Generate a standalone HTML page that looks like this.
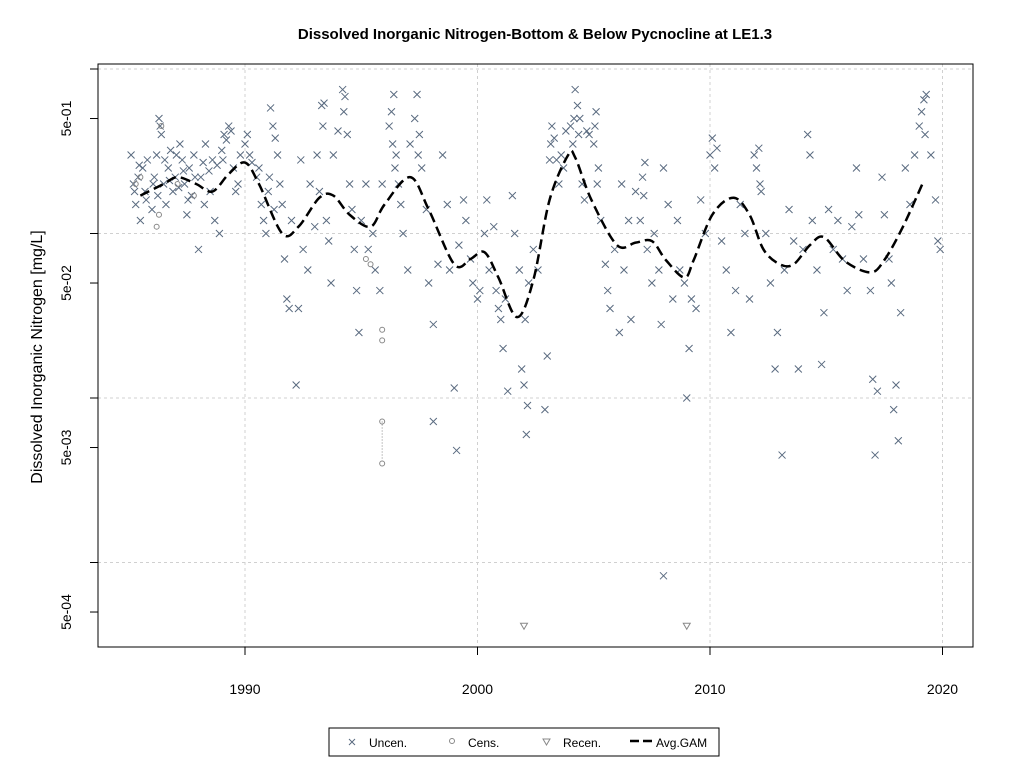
<!DOCTYPE html>
<html><head><meta charset="utf-8"><style>
body{margin:0;background:#fff;font-family:"Liberation Sans",Arial,sans-serif}
svg{display:block}
text{font-family:"Liberation Sans",Arial,sans-serif}
</style></head><body>
<svg id="chart" width="1024" height="768" viewBox="0 0 1024 768">
<text x="535" y="39" text-anchor="middle" font-size="15" font-weight="bold">Dissolved Inorganic Nitrogen-Bottom &amp; Below Pycnocline at LE1.3</text>
<text transform="translate(42,357) rotate(-90)" text-anchor="middle" font-size="16">Dissolved Inorganic Nitrogen [mg/L]</text>
<g id="grid"></g><g id="axes"></g><g id="marks"></g>
<rect x="98" y="64" width="875" height="583" fill="none" stroke="#000" stroke-width="1"/>
<g>
<rect x="329" y="728" width="390" height="28" fill="#fff" stroke="#000"/>
<g><path d="M349,739 l6,6 M355,739 l-6,6" stroke="#5a6b80" stroke-width="1"/><text x="369" y="747" font-size="12">Uncen.</text></g>
<g><circle cx="452" cy="741" r="2.5" fill="none" stroke="#888"/><text x="468" y="747" font-size="12">Cens.</text></g>
<g><path d="M543,739 h7 l-3.5,6 z" fill="none" stroke="#888"/><text x="563" y="747" font-size="12">Recen.</text></g>
<g><path d="M630,741 h22" stroke="#000" stroke-width="2.5" stroke-dasharray="9,4"/><text x="656" y="747" font-size="12">Avg.GAM</text></g>
</g>
</svg>
<script>
const xTicks=[1990,2000,2010,2020];
const yTickVals=[0.5,0.05,0.005,0.0005];
const yTickLabels=["5e-01","5e-02","5e-03","5e-04"];
const yGridVals=[1,0.1,0.01,0.001];
const gamYears=[1985.5,1986.5,1987.1,1987.9,1988.6,1989.3,1990,1990.6,1991.6,1992.3,1993.2,1993.8,1994.5,1995.4,1996,1997.1,1997.9,1999,1999.7,2000.3,2000.9,2001.7,2002.4,2003.1,2003.9,2004.2,2004.9,2006,2006.8,2007.5,2008.1,2008.9,2009.3,2010.1,2011,2011.7,2012.3,2013,2013.6,2014.3,2014.9,2015.8,2016.9,2017.5,2018.3,2019.2];
const gamValues=[0.17,0.2,0.22,0.2,0.18,0.23,0.27,0.2,0.1,0.11,0.165,0.17,0.13,0.11,0.15,0.22,0.14,0.065,0.07,0.077,0.054,0.031,0.052,0.16,0.3,0.29,0.16,0.085,0.088,0.09,0.069,0.054,0.069,0.13,0.165,0.13,0.08,0.065,0.065,0.085,0.095,0.068,0.058,0.069,0.11,0.21];
const uncenYears=[1985.1,1985.2,1985.3,1985.4,1985.5,1985.6,1985.7,1985.8,1986.0,1986.1,1986.2,1986.3,1986.35,1986.4,1986.5,1986.6,1986.7,1986.8,1986.9,1987.0,1987.2,1987.3,1987.4,1987.5,1987.6,1987.7,1987.8,1988.0,1988.1,1988.2,1988.3,1988.5,1988.6,1988.7,1988.9,1989.0,1989.1,1989.2,1989.4,1989.5,1989.6,1989.8,1990.0,1990.1,1990.3,1990.5,1990.7,1990.8,1990.9,1991.0,1991.1,1991.2,1991.3,1991.4,1991.5,1991.6,1991.7,1991.8,1991.9,1992.0,1992.2,1992.3,1992.4,1992.5,1992.7,1992.8,1993.0,1993.1,1993.2,1993.3,1993.4,1993.5,1993.6,1993.7,1993.8,1994.0,1994.2,1994.3,1994.4,1994.5,1994.6,1994.7,1994.8,1994.9,1995.0,1995.2,1995.3,1995.5,1995.6,1995.8,1995.9,1996.2,1996.3,1996.4,1996.5,1996.6,1996.7,1996.8,1997.0,1997.1,1997.3,1997.4,1997.5,1997.6,1997.8,1997.9,1998.1,1998.1,1998.3,1998.5,1998.7,1998.8,1999.0,1999.1,1999.2,1999.4,1999.5,1999.7,1999.8,2000.0,2000.1,2000.3,2000.4,2000.5,2000.7,2000.8,2000.9,2001.0,2001.1,2001.2,2001.3,2001.5,2001.6,2001.8,2001.9,2002.0,2002.1,2002.15,2002.2,2002.4,2002.6,2002.9,2003.0,2003.1,2003.2,2003.3,2003.5,2003.6,2003.8,2004.0,2004.1,2004.2,2004.3,2004.4,2004.5,2004.6,2004.8,2005.0,2005.1,2005.2,2005.3,2005.5,2005.6,2005.7,2005.9,2006.1,2006.2,2006.3,2006.5,2006.6,2006.8,2007.0,2007.1,2007.2,2007.3,2007.5,2007.6,2007.8,2007.9,2008.0,2008.0,2008.2,2008.4,2008.6,2008.7,2008.9,2009.0,2009.1,2009.2,2009.4,2009.6,2009.8,2010.0,2010.1,2010.3,2010.5,2010.7,2010.9,2011.1,2011.3,2011.5,2011.7,2011.9,2012.0,2012.1,2012.2,2012.4,2012.6,2012.8,2012.9,2013.1,2013.2,2013.4,2013.6,2013.8,2014.0,2014.2,2014.3,2014.4,2014.6,2014.8,2014.9,2015.1,2015.3,2015.5,2015.7,2015.9,2016.1,2016.3,2016.4,2016.6,2016.9,2017.0,2017.1,2017.2,2017.4,2017.5,2017.7,2017.8,2017.9,2018.0,2018.1,2018.2,2018.4,2018.6,2018.8,2019.0,2019.1,2019.2,2019.3,2019.5,2019.7,2019.8,2019.9,
1985.25,1985.45,1985.75,1986.05,1986.25,1986.55,1986.75,1987.05,1987.15,1987.35,1987.55,1987.85,1988.25,1988.45,1988.8,1989.05,1989.3,1989.7,1990.2,1990.6,1991.05,1991.25,1993.35,1994.25,1996.35,1996.45,1997.45,2002.05,2003.15,2003.4,2003.7,2004.15,2004.35,2004.7,2005.05,2005.15,2007.15,2010.2,2012.15,2019.25];
const uncenValues=[0.3,0.2,0.15,0.22,0.12,0.25,0.18,0.28,0.14,0.22,0.3,0.5,0.45,0.4,0.2,0.15,0.25,0.32,0.18,0.22,0.35,0.28,0.2,0.13,0.25,0.17,0.3,0.08,0.22,0.27,0.35,0.18,0.28,0.12,0.1,0.32,0.4,0.37,0.42,0.25,0.18,0.3,0.35,0.4,0.27,0.22,0.15,0.12,0.1,0.18,0.58,0.45,0.38,0.3,0.2,0.15,0.07,0.04,0.035,0.12,0.012,0.035,0.28,0.08,0.06,0.2,0.11,0.3,0.18,0.6,0.62,0.12,0.09,0.05,0.3,0.42,0.75,0.68,0.4,0.2,0.14,0.08,0.045,0.025,0.12,0.2,0.08,0.1,0.06,0.045,0.2,0.45,0.55,0.7,0.3,0.2,0.15,0.1,0.06,0.35,0.5,0.7,0.4,0.25,0.14,0.05,0.0072,0.028,0.065,0.3,0.15,0.06,0.0115,0.0048,0.085,0.16,0.12,0.07,0.05,0.04,0.045,0.1,0.16,0.06,0.11,0.045,0.035,0.03,0.02,0.04,0.011,0.17,0.1,0.06,0.015,0.012,0.006,0.009,0.05,0.08,0.06,0.0085,0.018,0.28,0.45,0.38,0.2,0.3,0.42,0.45,0.35,0.75,0.6,0.5,0.2,0.16,0.4,0.35,0.55,0.25,0.12,0.065,0.045,0.035,0.08,0.025,0.2,0.06,0.12,0.03,0.18,0.12,0.22,0.27,0.08,0.05,0.1,0.06,0.028,0.25,0.00083,0.15,0.04,0.12,0.06,0.05,0.01,0.02,0.04,0.035,0.16,0.1,0.3,0.38,0.33,0.09,0.06,0.025,0.045,0.15,0.1,0.04,0.3,0.25,0.33,0.18,0.1,0.05,0.015,0.025,0.0045,0.06,0.14,0.09,0.015,0.08,0.4,0.3,0.12,0.06,0.016,0.033,0.14,0.08,0.12,0.07,0.045,0.11,0.25,0.13,0.07,0.045,0.013,0.0045,0.011,0.22,0.13,0.07,0.05,0.0085,0.012,0.0055,0.033,0.25,0.15,0.3,0.45,0.55,0.65,0.7,0.3,0.16,0.09,0.08,
0.18,0.26,0.16,0.2,0.17,0.28,0.21,0.3,0.19,0.24,0.16,0.22,0.15,0.24,0.26,0.28,0.45,0.2,0.3,0.25,0.22,0.14,0.45,0.55,0.35,0.25,0.3,0.03,0.35,0.28,0.25,0.5,0.4,0.42,0.45,0.2,0.17,0.25,0.2,0.4];
const censYears=[1985.3,1985.5,1986.2,1986.3,1986.4,1987.1,1987.8,1995.2,1995.4,1995.9,1995.9,1995.9,1995.9];
const censValues=[0.2,0.22,0.11,0.13,0.45,0.2,0.17,0.07,0.065,0.0224,0.026,0.0072,0.004];
const recenYears=[2002.0,2009.0];
const recenValues=[0.00041,0.00041];

const NS="http://www.w3.org/2000/svg";
const X0=98,X1=973,Y0=64,Y1=647;
function xs(t){return 245+(t-1990)*23.25;}
function ys(v){return 69-Math.log10(v)*164.5;}
function mk(tag,attrs,parent){const e=document.createElementNS(NS,tag);for(const k in attrs)e.setAttribute(k,attrs[k]);parent.appendChild(e);return e;}
const grid=document.getElementById('grid'),axes=document.getElementById('axes'),marks=document.getElementById('marks');
xTicks.forEach(t=>{
  const g=mk('line',{x1:xs(t),x2:xs(t),y1:Y0,y2:Y1,stroke:'#d0d0d0','stroke-dasharray':'3,3'},grid);
  
  
  const tk=mk('line',{x1:xs(t),x2:xs(t),y1:Y1,y2:Y1+8,stroke:'#000'},axes);
  
  
  const lb=mk('text',{x:xs(t),y:694,'text-anchor':'middle','font-size':'14'},axes);
  lb.textContent=t;
  
  
});
yGridVals.forEach(v=>{
  const g=mk('line',{x1:X0,x2:X1,y1:ys(v),y2:ys(v),stroke:'#d0d0d0','stroke-dasharray':'3,3'},grid);
  
  
  const tk=mk('line',{x1:X0-8,x2:X0,y1:ys(v),y2:ys(v),stroke:'#000'},axes);
  
  
});
yTickVals.forEach((v,i)=>{
  const tk=mk('line',{x1:X0-8,x2:X0,y1:ys(v),y2:ys(v),stroke:'#000'},axes);
  
  
  const lb=mk('text',{transform:`translate(71,${ys(v)}) rotate(-90)`,'text-anchor':'middle','font-size':'14'},axes);
  lb.textContent=yTickLabels[i];
  
  
});
uncenYears.forEach((t,i)=>{
  const x=xs(t),y=ys(uncenValues[i]);
  const p=mk('path',{d:`M${x-3.5},${y-3.5}l7,7M${x+3.5},${y-3.5}l-7,7`,stroke:'#5a6b80','stroke-width':'1'},marks);
  
  
});
const dl=mk('line',{x1:xs(1995.9),x2:xs(1995.9),y1:ys(0.0072),y2:ys(0.004),stroke:'#888','stroke-dasharray':'1,2'},marks);


censYears.forEach((t,i)=>{
  const c=mk('circle',{cx:xs(t),cy:ys(censValues[i]),r:2.5,fill:'none',stroke:'#888'},marks);
  
  
});
recenYears.forEach((t,i)=>{
  const x=xs(t),y=ys(recenValues[i]);
  const p=mk('path',{d:`M${x-3.5},${y-3}h7l-3.5,6z`,fill:'none',stroke:'#888'},marks);
  
  
});
const pts=gamYears.map((t,i)=>[xs(t),ys(gamValues[i])]);
let d=`M${pts[0][0]},${pts[0][1]}`;
for(let i=0;i<pts.length-1;i++){
  const p0=pts[Math.max(0,i-1)],p1=pts[i],p2=pts[i+1],p3=pts[Math.min(pts.length-1,i+2)];
  d+=`C${p1[0]+(p2[0]-p0[0])/6},${p1[1]+(p2[1]-p0[1])/6} ${p2[0]-(p3[0]-p1[0])/6},${p2[1]-(p3[1]-p1[1])/6} ${p2[0]},${p2[1]}`;
}
const gl=mk('path',{d:d,fill:'none',stroke:'#000','stroke-width':'2.5','stroke-dasharray':'10,5'},marks);


</script>
</body></html>
